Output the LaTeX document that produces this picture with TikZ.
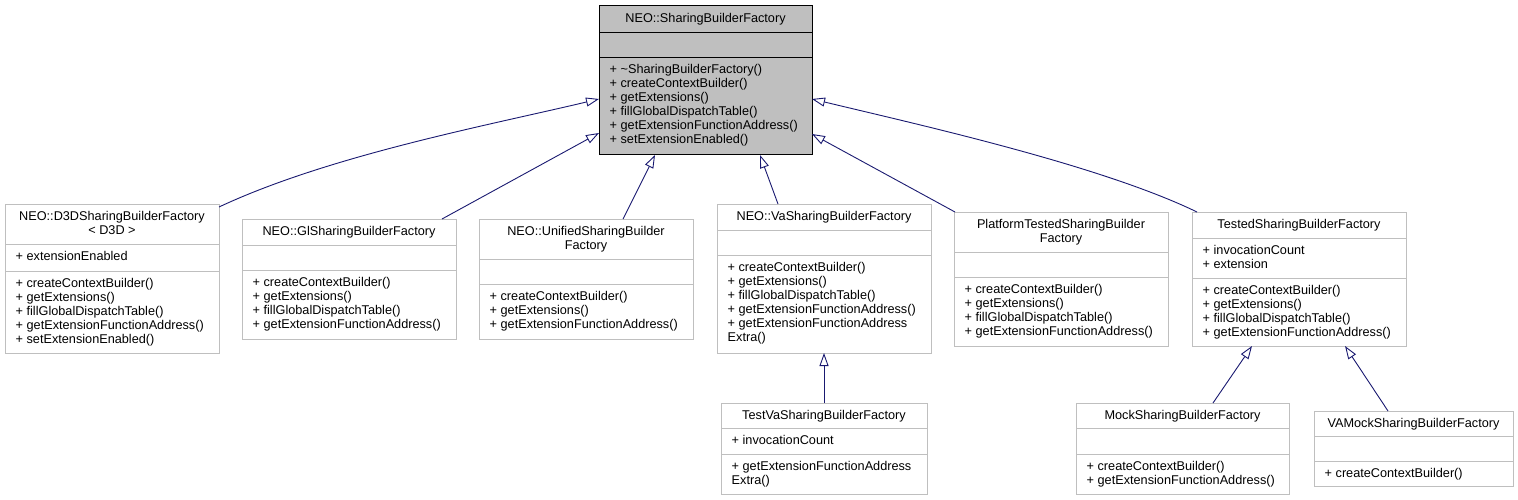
\documentclass[tikz,border=0pt]{standalone}
\usepackage{fontspec}
\setmainfont{Liberation Sans}
\usepackage{tikz}
\usetikzlibrary{arrows.meta}

\definecolor{edgeblue}{HTML}{191970}
\definecolor{boxgrey}{HTML}{BFBFBF}

\tikzset{
  classbox/.style={draw=boxgrey, line width=1pt, inner sep=0pt, outer sep=0pt},
  baseclass/.style={classbox, draw=black, fill=boxgrey},
  member/.style={anchor=base west, inner sep=0pt, font=\fontsize{12.7}{14}\selectfont},
  heading/.style={member, anchor=base},
  inherit/.style={draw=edgeblue, line width=0.9pt, -{Triangle[open, length=13pt, width=9pt]}},
}

\newcommand{\memberlist}[4]{%
  \foreach \m [count=\k from 0] in {#4}
    \node[member] (#1-\k) at (#2, #3+16.8+14*\k) {\m};}
\newcommand{\headinglist}[4]{%
  \foreach \m [count=\k from 0] in {#4}
    \node[heading] (#1-\k) at (#2, #3+16.8+14*\k) {\m};}

\begin{document}
\begin{tikzpicture}[x=1pt, y=-1pt]
    \useasboundingbox (0,0) rectangle (1518,500);

    \node[baseclass, minimum width=213, minimum height=149] (base) at (705.5,80.5) {};
    \draw (base.west |- 0,32) -- (base.east |- 0,32);
    \draw (base.west |- 0,57) -- (base.east |- 0,57);
    \headinglist{base-t}{705.5}{6}{NEO::SharingBuilderFactory}
    \memberlist{base-m}{609.5}{57}{+ \textasciitilde SharingBuilderFactory(), + createContextBuilder(), + getExtensions(), + fillGlobalDispatchTable(), + getExtensionFunctionAddress(), + setExtensionEnabled()}

    \node[classbox, minimum width=214, minimum height=149] (d3d) at (112,278.5) {};
    \draw[boxgrey] (d3d.west |- 0,244) -- (d3d.east |- 0,244);
    \draw[boxgrey] (d3d.west |- 0,271) -- (d3d.east |- 0,271);
    \headinglist{d3d-t}{112}{204}{NEO::D3DSharingBuilderFactory, < D3D >}
    \memberlist{d3d-a}{15.5}{244}{+ extensionEnabled}
    \memberlist{d3d-m}{15.5}{271}{+ createContextBuilder(), + getExtensions(), + fillGlobalDispatchTable(), + getExtensionFunctionAddress(), + setExtensionEnabled()}

    \node[classbox, minimum width=214, minimum height=120] (gl) at (349,279) {};
    \draw[boxgrey] (gl.west |- 0,245) -- (gl.east |- 0,245);
    \draw[boxgrey] (gl.west |- 0,270) -- (gl.east |- 0,270);
    \headinglist{gl-t}{349}{219}{NEO::GlSharingBuilderFactory}
    \memberlist{gl-m}{252.5}{270}{+ createContextBuilder(), + getExtensions(), + fillGlobalDispatchTable(), + getExtensionFunctionAddress()}

    \node[classbox, minimum width=214, minimum height=120] (unified) at (586,279) {};
    \draw[boxgrey] (unified.west |- 0,259) -- (unified.east |- 0,259);
    \draw[boxgrey] (unified.west |- 0,284) -- (unified.east |- 0,284);
    \headinglist{unified-t}{586}{219}{NEO::UnifiedSharingBuilder, Factory}
    \memberlist{unified-m}{489.5}{284}{+ createContextBuilder(), + getExtensions(), + getExtensionFunctionAddress()}

    \node[classbox, minimum width=214, minimum height=149] (va) at (824,278.5) {};
    \draw[boxgrey] (va.west |- 0,230) -- (va.east |- 0,230);
    \draw[boxgrey] (va.west |- 0,255) -- (va.east |- 0,255);
    \headinglist{va-t}{824}{204}{NEO::VaSharingBuilderFactory}
    \memberlist{va-m}{727.5}{255}{+ createContextBuilder(), + getExtensions(), + fillGlobalDispatchTable(), + getExtensionFunctionAddress(), + getExtensionFunctionAddress, Extra()}

    \node[classbox, minimum width=214, minimum height=134] (platform) at (1061,279) {};
    \draw[boxgrey] (platform.west |- 0,252) -- (platform.east |- 0,252);
    \draw[boxgrey] (platform.west |- 0,277) -- (platform.east |- 0,277);
    \headinglist{platform-t}{1061}{212}{PlatformTestedSharingBuilder, Factory}
    \memberlist{platform-m}{964.5}{277}{+ createContextBuilder(), + getExtensions(), + fillGlobalDispatchTable(), + getExtensionFunctionAddress()}

    \node[classbox, minimum width=214, minimum height=134] (tested) at (1299,279) {};
    \draw[boxgrey] (tested.west |- 0,238) -- (tested.east |- 0,238);
    \draw[boxgrey] (tested.west |- 0,278) -- (tested.east |- 0,278);
    \headinglist{tested-t}{1299}{212}{TestedSharingBuilderFactory}
    \memberlist{tested-a}{1202.5}{238}{+ invocationCount, + extension}
    \memberlist{tested-m}{1202.5}{278}{+ createContextBuilder(), + getExtensions(), + fillGlobalDispatchTable(), + getExtensionFunctionAddress()}

    \node[classbox, minimum width=206, minimum height=91] (testva) at (824,448.5) {};
    \draw[boxgrey] (testva.west |- 0,428) -- (testva.east |- 0,428);
    \draw[boxgrey] (testva.west |- 0,454) -- (testva.east |- 0,454);
    \headinglist{testva-t}{824}{403}{TestVaSharingBuilderFactory}
    \memberlist{testva-a}{731.5}{428}{+ invocationCount}
    \memberlist{testva-m}{731.5}{454}{+ getExtensionFunctionAddress, Extra()}

    \node[classbox, minimum width=213, minimum height=91] (mock) at (1182.5,448.5) {};
    \draw[boxgrey] (mock.west |- 0,428) -- (mock.east |- 0,428);
    \draw[boxgrey] (mock.west |- 0,454) -- (mock.east |- 0,454);
    \headinglist{mock-t}{1182.5}{403}{MockSharingBuilderFactory}
    \memberlist{mock-m}{1086.5}{454}{+ createContextBuilder(), + getExtensionFunctionAddress()}

    \node[classbox, minimum width=199, minimum height=75] (vamock) at (1413.5,448.5) {};
    \draw[boxgrey] (vamock.west |- 0,436) -- (vamock.east |- 0,436);
    \draw[boxgrey] (vamock.west |- 0,461) -- (vamock.east |- 0,461);
    \headinglist{vamock-t}{1413.5}{411}{VAMockSharingBuilderFactory}
    \memberlist{vamock-m}{1324.5}{461}{+ createContextBuilder()}

    \draw[inherit] ([yshift=-3pt]d3d.north east) .. controls (330,155) and (490,125) .. ([yshift=-93pt]base.north west);
    \draw[inherit] ([xshift=-14pt]gl.north east) -- ([yshift=-127pt]base.north west);
    \draw[inherit] ([xshift=-70pt]unified.north east) -- ([xshift=-50.5pt]base.south);
    \draw[inherit] ([xshift=61pt]va.north west) -- ([xshift=54.5pt]base.south);
    \draw[inherit] ([xshift=1pt]platform.north west) -- ([yshift=-128pt]base.north east);
    \draw[inherit] ([xshift=5pt]tested.north west) .. controls (1100,165) and (920,125) .. ([yshift=-93pt]base.north east);
    \draw[inherit] (testva.north) -- (va.south);
    \draw[inherit] ([xshift=30.5pt]mock.north) -- ([xshift=-47pt]tested.south);
    \draw[inherit] ([xshift=-25.5pt]vamock.north) -- ([xshift=46pt]tested.south);
\end{tikzpicture}
\end{document}
